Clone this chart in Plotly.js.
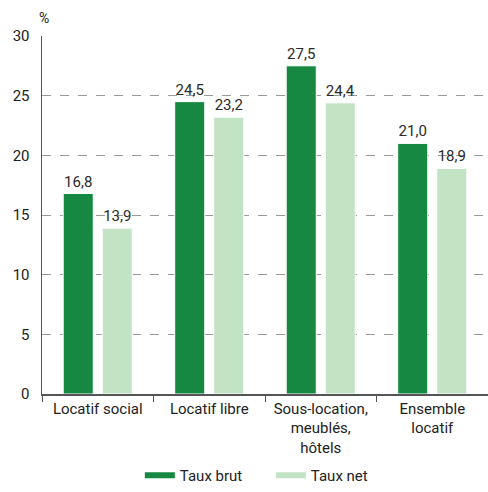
<!DOCTYPE html>
<html><head><meta charset="utf-8">
<script src="https://cdn.plot.ly/plotly-3.0.1.min.js"></script>
<style>html,body{margin:0;padding:0;background:#fff}#c{width:488px;height:492px}</style>
</head><body><div id="c"></div>
<script>
const categories = ["Locatif social", "Locatif libre", "Sous-location,<br>meublés,<br>hôtels", "Ensemble<br>locatif"];
const tauxBrut = [16.8, 24.5, 27.5, 21.0];
const tauxNet = [13.9, 23.2, 24.4, 18.9];
const seriesNames = ["Taux brut", "Taux net"];
const colors = ["#178841", "#c3e3c5"];
const yTicks = [0, 5, 10, 15, 20, 25, 30];

const fontFam = "Roboto, 'Liberation Sans', sans-serif";
const traces = [
  {type: "bar", x: categories, y: tauxBrut, name: seriesNames[0], marker: {color: colors[0], line: {color: "#fff", width: 1}},
   texttemplate: "%{y:.1f}", textposition: "outside", cliponaxis: false, textfont: {size: 15, color: "#2a2a2a"}, showlegend: false, hoverinfo: "skip"},
  {type: "bar", x: categories, y: tauxNet, name: seriesNames[1], marker: {color: colors[1], line: {color: "#fff", width: 1}},
   texttemplate: "%{y:.1f}", textposition: "outside", cliponaxis: false, textfont: {size: 15, color: "#2a2a2a"}, showlegend: false, hoverinfo: "skip"},
  {type: "scatter", mode: "lines", x: [null], y: [null], name: seriesNames[0], line: {color: colors[0], width: 6}},
  {type: "scatter", mode: "lines", x: [null], y: [null], name: seriesNames[1], line: {color: colors[1], width: 6}}
];
const layout = {
  width: 488, height: 492,
  margin: {l: 42, r: 0, t: 36, b: 98},
  separators: ", ",
  font: {family: fontFam, size: 15, color: "#222"},
  paper_bgcolor: "#fff", plot_bgcolor: "#fff",
  barmode: "group", bargap: 0.30, bargroupgap: 0.23,
  xaxis: {type: "category", showline: true, linecolor: "#555", linewidth: 1.5, ticks: "outside", tickson: "boundaries",
          ticklen: 6, tickcolor: "#555", tickfont: {size: 15, color: "#222"}, showgrid: false, fixedrange: true},
  yaxis: {range: [0, 30], tickvals: yTicks, showline: true, linecolor: "#555", linewidth: 1.5, ticks: "",
          showgrid: true, gridcolor: "#999", griddash: "dash", gridwidth: 1, zeroline: false,
          tickfont: {size: 15, color: "#222"}, ticklabelstandoff: 8},
  showlegend: true,
  legend: {orientation: "h", x: 0.555, xanchor: "center", xref: "container", y: -0.03, yanchor: "bottom", yref: "container",
           font: {size: 15, color: "#222"}, itemwidth: 30, entrywidth: 86, traceorder: "normal"},
  annotations: [{text: "%", xref: "paper", yref: "paper", x: 0.005, y: 1, yshift: 18, xanchor: "center", yanchor: "middle",
                 showarrow: false, font: {size: 14, color: "#222"}}]
};
Plotly.newPlot("c", traces, layout, {displayModeBar: false, staticPlot: true});
</script></body></html>
